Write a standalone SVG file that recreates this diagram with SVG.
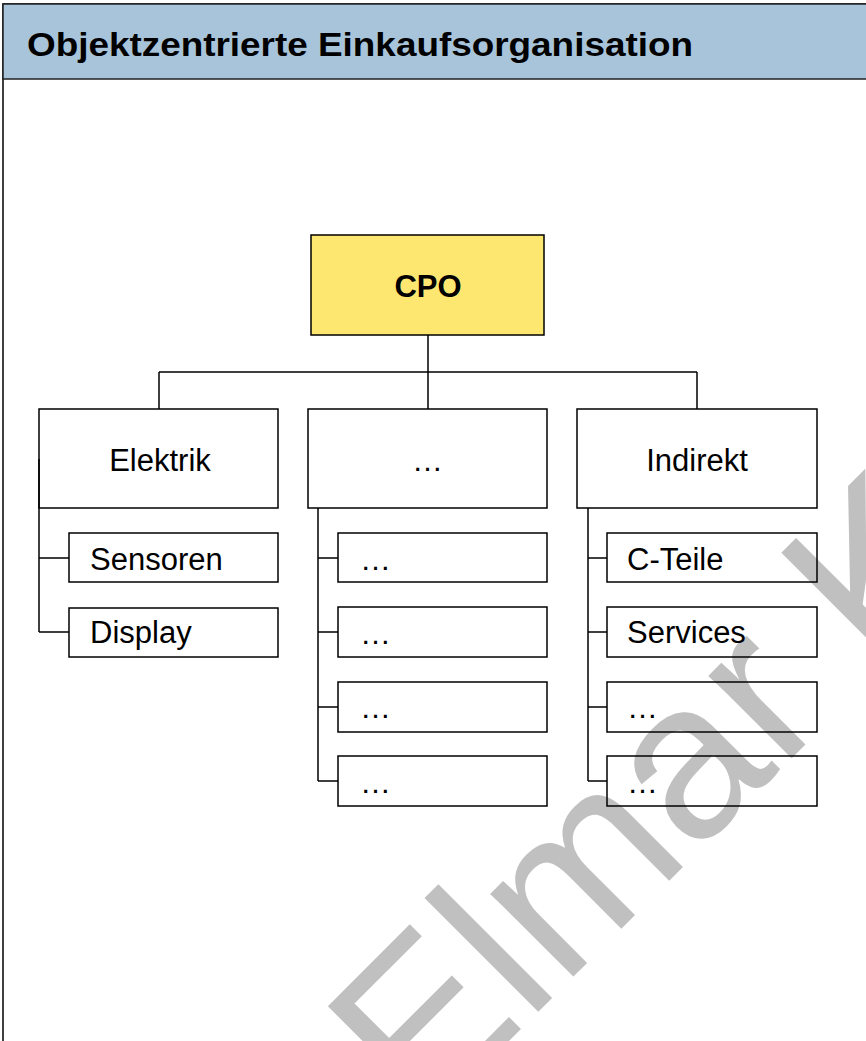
<svg xmlns="http://www.w3.org/2000/svg" width="866" height="1041" viewBox="0 0 866 1041">
<style>
.box{fill:none;stroke:#000;stroke-width:1.5}
.ln{fill:none;stroke:#000;stroke-width:1.5}
.t{font-family:"Liberation Sans",Arial,sans-serif;font-size:31px;fill:#000}
.tm{text-anchor:middle}
.b{font-weight:bold}
</style>
<rect x="0" y="0" width="866" height="1041" fill="#fff"/>
<text x="423" y="1127" transform="rotate(-45 423 1127)" font-family="Liberation Sans, Arial, sans-serif" font-size="222" fill="#c0c0c0">Elmar K</text>
<g id="frame">
<rect x="3" y="4" width="870" height="1050" fill="none" stroke="#000" stroke-width="1.5"/>
<rect x="3" y="4" width="870" height="75" fill="#a8c4da" stroke="#222" stroke-width="1.5"/>
<text class="t b" x="27" y="56" font-size="34" style="font-size:34px" textLength="666" lengthAdjust="spacingAndGlyphs">Objektzentrierte Einkaufsorganisation</text>
</g>
<g id="connectors">
<path class="ln" d="M428,335 V409 M159,372 H697 M159,372 V409 M697,372 V409"/>
<path class="ln" d="M39,459 V632 M39,558 H69 M39,632 H69"/>
<path class="ln" d="M318,508 V781 M318,558 H338 M318,632 H338 M318,707 H338 M318,781 H338"/>
<path class="ln" d="M588,508 V781 M588,558 H607 M588,632 H607 M588,707 H607 M588,781 H607"/>
</g>
<g id="cpo">
<rect x="311" y="235" width="233" height="100" fill="#fee771" stroke="#000" stroke-width="1.5"/>
<text class="t tm b" x="428" y="297">CPO</text>
</g>
<g id="elektrik">
<rect class="box" x="39" y="409" width="239" height="99"/>
<text class="t tm" x="160" y="471">Elektrik</text>
</g>
<g id="mitte">
<rect class="box" x="308" y="409" width="239" height="99"/>
<text class="t tm" x="427.5" y="471">…</text>
</g>
<g id="indirekt">
<rect class="box" x="577" y="409" width="240" height="99"/>
<text class="t tm" x="697" y="471">Indirekt</text>
</g>
<g id="sensoren">
<rect class="box" x="69" y="533" width="209" height="49"/>
<text class="t" x="90" y="570">Sensoren</text>
</g>
<g id="display">
<rect class="box" x="69" y="608" width="209" height="49"/>
<text class="t" x="90" y="643">Display</text>
</g>
<g id="m1">
<rect class="box" x="338" y="533" width="209" height="49"/>
<text class="t" x="360" y="570">…</text>
</g>
<g id="m2">
<rect class="box" x="338" y="607" width="209" height="50"/>
<text class="t" x="360" y="644">…</text>
</g>
<g id="m3">
<rect class="box" x="338" y="682" width="209" height="50"/>
<text class="t" x="360" y="718">…</text>
</g>
<g id="m4">
<rect class="box" x="338" y="756" width="209" height="50"/>
<text class="t" x="360" y="793">…</text>
</g>
<g id="cteile">
<rect class="box" x="607" y="533" width="210" height="49"/>
<text class="t" x="627" y="570">C-Teile</text>
</g>
<g id="services">
<rect class="box" x="607" y="607" width="210" height="50"/>
<text class="t" x="627" y="643">Services</text>
</g>
<g id="i3">
<rect class="box" x="607" y="682" width="210" height="50"/>
<text class="t" x="627" y="718">…</text>
</g>
<g id="i4">
<rect class="box" x="607" y="756" width="210" height="50"/>
<text class="t" x="627" y="793">…</text>
</g>
</svg>
